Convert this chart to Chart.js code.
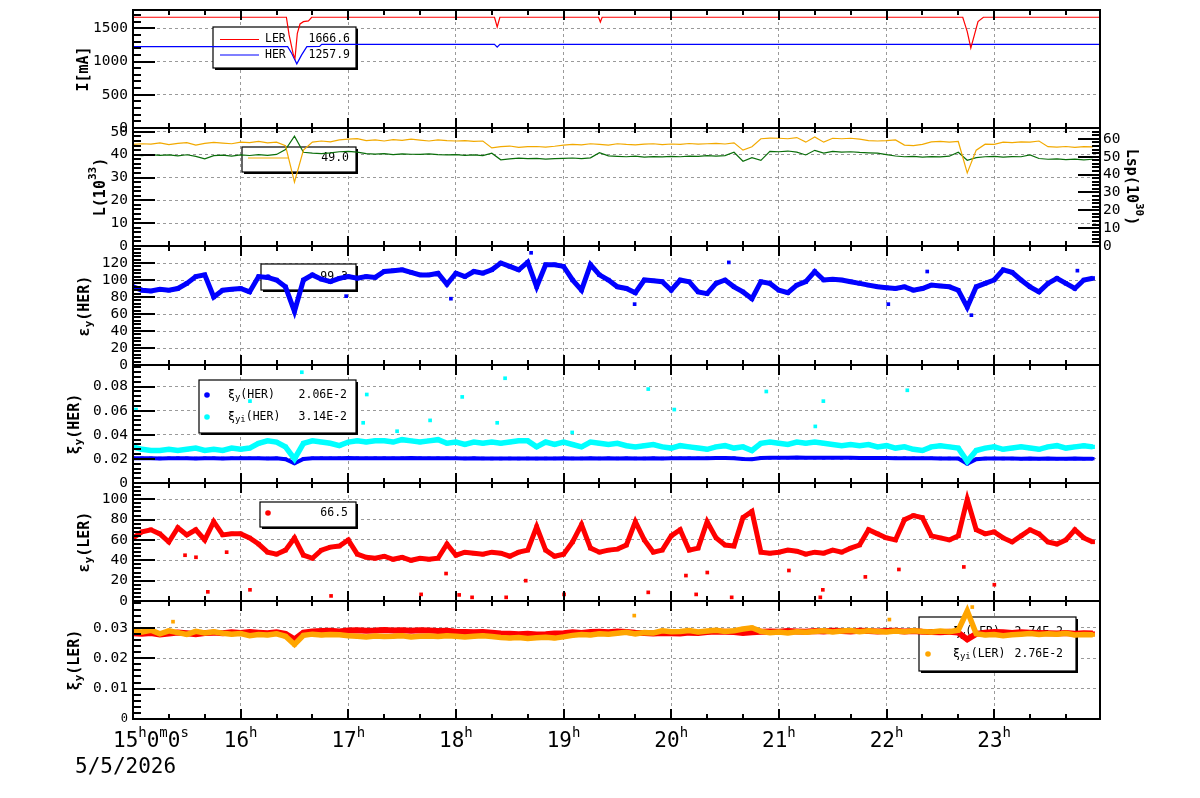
<!DOCTYPE html>
<html lang="en">
<head>
<meta charset="utf-8">
<title>Beam monitor 5/5/2026</title>
<script src="https://cdn.jsdelivr.net/npm/chart.js@4.4.1/dist/chart.umd.min.js"></script>
<style>
html,body{margin:0;padding:0;background:#ffffff;}
body{position:relative;width:1200px;height:798px;overflow:hidden;}
canvas{position:absolute;left:0;}
</style>
</head>
<body>
<canvas id="p1"></canvas>
<canvas id="p2"></canvas>
<canvas id="p3"></canvas>
<canvas id="p4"></canvas>
<canvas id="p5"></canvas>
<canvas id="p6"></canvas>
<script>
// ================= DATA (minutes after 15:00, 5/5/2026) =================
const timeMin = [0,5,10,15,20,25,30,35,40,45,50,55,60,65,70,75,80,85,90,95,100,105,110,115,120,125,130,135,140,145,150,155,160,165,170,175,180,185,190,195,200,205,210,215,220,225,230,235,240,245,250,255,260,265,270,275,280,285,290,295,300,305,310,315,320,325,330,335,340,345,350,355,360,365,370,375,380,385,390,395,400,405,410,415,420,425,430,435,440,445,450,455,460,465,470,475,480,485,490,495,500,505,510,515,520,525,530,535];

const hourTicks  = [60,120,180,240,300,360,420,480];
const hourLabels = ['16','17','18','19','20','21','22','23'];
const dateLabel  = '5/5/2026';

// Beam currents [mA]
const lerCurT = [0,85.5,87,89.4,90.3,91.6,93.1,95,97.8,99.6,201.5,203,204.5,259.5,260.5,261.5,462.5,465,467,469,471,474,539];
const lerCurV = [1666,1666,1400,1100,1050,1425,1565,1600,1610,1666,1666,1520,1666,1666,1595,1666,1666,1450,1205,1400,1600,1666,1666];
const herCurT = [0,86.2,88.5,91.3,94,96.9,104,105.2,201.5,203,204.5,539];
const herCurV = [1224,1224,1120,965,1100,1224,1226,1258,1258,1215,1258,1258];

// Luminosity L (1e33, left) and Lsp (1e30, right)
const lumL = [44.5,44.8,44.6,45.2,44.4,45.0,45.3,44.2,45.0,45.4,
  45.1,44.8,45.5,45.3,45.8,45.2,45.5,44.0,28.0,42.0,
  45.5,46.0,45.6,46.5,46.8,47.0,46.2,46.5,46.0,46.6,
  46.3,46.8,46.4,46.0,46.5,46.2,46.0,46.2,45.8,46.0,
  43.0,43.5,43.8,43.2,43.5,43.6,43.3,43.7,44.2,44.5,
  44.3,44.8,44.5,44.2,44.8,44.5,44.3,44.6,44.8,44.4,
  44.7,44.5,44.9,44.6,44.8,45.0,44.7,45.2,42.0,43.5,
  47.0,47.3,47.2,47.0,47.5,45.5,47.8,45.5,47.2,47.0,
  47.2,46.8,46.2,46.0,46.2,46.5,44.2,44.0,44.5,45.6,
  45.8,45.5,45.8,32.0,42.0,44.6,44.5,45.5,45.3,45.6,
  45.5,46.0,43.5,43.3,43.6,43.2,43.5,43.4];
const lumSp = [51.0,50.6,51.2,50.8,51.0,50.5,51.1,50.2,48.8,50.6,
  50.9,50.4,51.0,50.7,51.2,50.8,51.3,54.0,61.5,52.5,
  52.0,51.8,52.2,52.8,53.0,52.6,51.8,51.5,51.7,51.2,
  51.6,51.4,51.3,51.6,51.2,51.0,51.2,50.8,51.0,50.6,
  52.0,48.3,48.8,49.2,48.9,49.1,48.7,49.0,49.1,49.3,
  49.0,49.4,52.3,50.5,50.2,50.0,50.3,49.8,50.1,49.9,
  50.2,50.0,50.4,50.2,50.6,50.3,50.6,52.5,47.5,49.5,
  48.0,53.0,52.8,53.2,52.6,51.0,53.6,52.0,53.0,52.6,
  52.8,52.4,52.2,52.0,51.2,50.4,50.0,50.2,49.8,50.1,
  49.9,50.3,52.5,48.0,49.5,50.0,50.2,49.8,50.1,50.0,
  51.0,49.0,48.6,48.8,48.4,48.7,48.3,48.6];

// Vertical emittance HER
const epsHer = [92,88,87,89,88,90,96,104,106,80,
  88,89,90,86,104,103,100,92,63,100,
  106,101,98,102,104,102,104,103,110,111,
  112,109,106,106,108,95,108,104,110,108,
  112,120,116,112,121,92,118,118,116,100,
  88,118,106,100,92,90,85,100,99,98,
  88,100,98,86,84,96,100,92,86,78,
  98,96,88,85,94,98,110,100,101,100,
  98,96,94,92,91,90,92,88,90,94,
  93,92,88,68,92,96,100,112,109,100,
  92,86,96,102,96,90,100,102];
const epsHerOutT = [118.8,177.2,221.9,279.6,332.1,421,442.7,467.3,526.4];
const epsHerOutV = [81,78,132,71.6,120.7,71.6,110,58.6,111];

// Beam-beam parameters HER
const xiHer = [0.0206,0.0205,0.0205,0.0204,0.0205,0.0206,0.0205,0.0204,0.0205,0.0205,
  0.0204,0.0205,0.0206,0.0205,0.0205,0.0204,0.0205,0.0198,0.0163,0.0200,
  0.0205,0.0206,0.0205,0.0206,0.0207,0.0206,0.0205,0.0206,0.0206,0.0205,
  0.0206,0.0207,0.0206,0.0205,0.0206,0.0205,0.0205,0.0204,0.0205,0.0204,
  0.0203,0.0203,0.0204,0.0203,0.0204,0.0203,0.0204,0.0204,0.0205,0.0204,
  0.0204,0.0205,0.0204,0.0205,0.0204,0.0205,0.0204,0.0204,0.0205,0.0204,
  0.0205,0.0205,0.0206,0.0205,0.0206,0.0207,0.0207,0.0206,0.0200,0.0198,
  0.0208,0.0209,0.0210,0.0210,0.0211,0.0210,0.0210,0.0209,0.0210,0.0209,
  0.0209,0.0208,0.0208,0.0207,0.0207,0.0206,0.0206,0.0205,0.0205,0.0205,
  0.0204,0.0204,0.0203,0.0160,0.0198,0.0203,0.0204,0.0203,0.0203,0.0202,
  0.0203,0.0202,0.0203,0.0202,0.0202,0.0203,0.0202,0.0202];
const xiiHer = [0.030,0.028,0.027,0.027,0.028,0.027,0.028,0.029,0.027,0.028,
  0.027,0.029,0.028,0.029,0.033,0.035,0.034,0.030,0.020,0.033,
  0.035,0.034,0.033,0.031,0.034,0.035,0.034,0.035,0.035,0.034,
  0.036,0.035,0.034,0.035,0.036,0.033,0.034,0.032,0.034,0.033,
  0.034,0.033,0.034,0.035,0.035,0.030,0.034,0.032,0.034,0.032,
  0.030,0.034,0.033,0.032,0.033,0.031,0.030,0.031,0.032,0.030,
  0.029,0.031,0.030,0.029,0.028,0.030,0.031,0.029,0.030,0.027,
  0.033,0.034,0.033,0.032,0.034,0.033,0.034,0.033,0.032,0.031,
  0.032,0.031,0.032,0.030,0.031,0.029,0.030,0.028,0.027,0.030,
  0.031,0.030,0.029,0.018,0.027,0.029,0.030,0.028,0.029,0.030,
  0.029,0.028,0.030,0.031,0.029,0.030,0.031,0.030];
const xiiHerOutT = [1.7,65.2,94.1,128.3,130.3,147.2,165.6,183.5,203,207.4,244.8,287.2,301.7,353,380.3,384.8,431.6];
const xiiHerOutV = [0.061,0.068,0.092,0.050,0.0735,0.043,0.052,0.0715,0.050,0.087,0.042,0.078,0.061,0.076,0.047,0.068,0.077];

// Vertical emittance LER
const epsLer = [62,68,70,66,58,72,65,70,60,78,
  65,66,66,62,56,48,46,50,62,45,
  42,50,53,54,60,46,43,42,44,41,
  43,40,42,41,42,56,45,48,47,46,
  48,47,44,48,50,73,50,44,46,58,
  75,52,48,50,51,55,78,60,48,50,
  64,70,50,52,78,62,55,54,82,88,
  48,47,48,50,49,46,48,47,50,48,
  52,55,70,66,62,60,80,84,82,64,
  62,60,64,100,70,66,68,62,58,64,
  70,66,58,56,60,70,62,58];
const epsLerOutT = [29,35.1,41.7,52.2,65.2,110.4,160.6,174.5,181.8,189,208,218.9,240.3,287.2,308.2,313.9,320.1,333.7,365.6,383.1,384.5,408.2,426.9,463.1,480.1];
const epsLerOutV = [45,43,9,48,11,5,6.5,27,6,3.6,3.6,20,6.5,8.5,25,6.5,28,3.6,30,3.6,11,23.7,31,33.5,16];

// Beam-beam parameters LER
const xiLer = [0.0282,0.0280,0.0283,0.0278,0.0281,0.0284,0.0282,0.0279,0.0283,0.0284,
  0.0282,0.0285,0.0283,0.0286,0.0284,0.0282,0.0285,0.0280,0.0262,0.0284,
  0.0288,0.0289,0.0290,0.0288,0.0291,0.0292,0.0290,0.0291,0.0293,0.0291,
  0.0292,0.0290,0.0292,0.0291,0.0289,0.0290,0.0287,0.0286,0.0285,0.0286,
  0.0284,0.0281,0.0280,0.0279,0.0280,0.0278,0.0279,0.0281,0.0282,0.0285,
  0.0283,0.0286,0.0287,0.0285,0.0288,0.0286,0.0284,0.0283,0.0281,0.0283,
  0.0282,0.0281,0.0284,0.0283,0.0286,0.0288,0.0287,0.0286,0.0283,0.0285,
  0.0287,0.0288,0.0287,0.0289,0.0288,0.0287,0.0289,0.0288,0.0290,0.0289,
  0.0288,0.0290,0.0289,0.0288,0.0289,0.0290,0.0288,0.0289,0.0287,0.0286,
  0.0285,0.0287,0.0284,0.0262,0.0280,0.0284,0.0286,0.0285,0.0283,0.0285,
  0.0284,0.0283,0.0282,0.0281,0.0283,0.0280,0.0282,0.0281];
const xiiLer = [0.0288,0.0286,0.0292,0.0280,0.0290,0.0284,0.0278,0.0288,0.0283,0.0287,
  0.0282,0.0279,0.0281,0.0274,0.0278,0.0276,0.0280,0.0272,0.0245,0.0275,
  0.0279,0.0276,0.0278,0.0277,0.0274,0.0272,0.0270,0.0273,0.0271,0.0272,
  0.0274,0.0270,0.0272,0.0273,0.0271,0.0274,0.0272,0.0270,0.0272,0.0274,
  0.0271,0.0268,0.0266,0.0268,0.0265,0.0267,0.0269,0.0266,0.0270,0.0275,
  0.0278,0.0276,0.0280,0.0279,0.0282,0.0285,0.0280,0.0284,0.0283,0.0290,
  0.0287,0.0288,0.0291,0.0286,0.0289,0.0292,0.0288,0.0290,0.0296,0.0300,
  0.0288,0.0284,0.0286,0.0283,0.0287,0.0285,0.0288,0.0290,0.0286,0.0289,
  0.0291,0.0287,0.0290,0.0288,0.0286,0.0289,0.0287,0.0290,0.0288,0.0286,
  0.0289,0.0287,0.0292,0.0355,0.0280,0.0276,0.0278,0.0274,0.0277,0.0279,
  0.0281,0.0278,0.0280,0.0279,0.0282,0.0276,0.0278,0.0277];
const xiiLerOutT = [22.3,279.4,421.6,467.8];
const xiiLerOutV = [0.032,0.034,0.0327,0.0368];

// Legend texts
const legCurrent = [['LER','1666.6'],['HER','1257.9']];
const legLum = '49.0';
const legEpsHer = '99.3';
const legXiHer = ['2.06E-2','3.14E-2'];
const legEpsLer = '66.5';
const legXiLer = ['2.74E-2','2.76E-2'];

// ================= STYLE / HELPERS =================
const MONO = "'DejaVu Sans Mono', monospace";
const TF = 'bold 15px ' + MONO, TSF = 'bold 11px ' + MONO;
const LEGF = '11.5px ' + MONO, LEGS = '9px ' + MONO;
const BIG = '21px ' + MONO, SUPF = '14px ' + MONO;
const GRID = '#9a9a9a';
const X_MAX = 539;
const RED = '#ff0000', BLUE = '#0000ff', CYAN = '#00ffff', ORANGE = '#ffa500', LUMOR = '#f2a900', GREEN = '#0a6e0a';

function pts(t, v){ return t.map((x, i) => ({x: x, y: v[i]})); }
function lineDS(t, v, color, w, axis){ return {data: pts(t, v), showLine: true, borderColor: color, borderWidth: w, pointRadius: 0, tension: 0, yAxisID: axis || 'y'}; }
function bandDS(t, v, color, w, r, order){ return {data: pts(t, v), showLine: true, borderColor: color, backgroundColor: color, borderWidth: w, pointStyle: 'rect', pointRadius: r, pointBorderWidth: 0, tension: 0, borderJoinStyle: 'miter', order: order}; }
function outDS(t, v, color, order){ return {data: pts(t, v), showLine: false, backgroundColor: color, borderColor: color, pointStyle: 'rect', pointRadius: 2.6, pointBorderWidth: 0, order: order}; }

function drawRich(ctx, parts, x, y, rot, align){
  ctx.save();
  ctx.translate(x, y); if (rot) ctx.rotate(rot);
  ctx.textBaseline = 'middle'; ctx.textAlign = 'left';
  let w = 0;
  for (const p of parts){ ctx.font = p.f; w += ctx.measureText(p.t).width; }
  let cx = align === 'center' ? -w / 2 : (align === 'right' ? -w : 0);
  for (const p of parts){ ctx.font = p.f; ctx.fillStyle = p.c || '#000'; ctx.fillText(p.t, cx, p.dy || 0); cx += ctx.measureText(p.t).width; }
  ctx.restore();
}

function drawLegend(ctx, L){
  ctx.fillStyle = '#000'; ctx.fillRect(L.x + 2, L.y + 2, L.w, L.h);
  ctx.fillStyle = '#fff'; ctx.fillRect(L.x, L.y, L.w, L.h);
  ctx.strokeStyle = '#000'; ctx.lineWidth = 1.2; ctx.strokeRect(L.x, L.y, L.w, L.h);
  for (const r of L.rows){
    if (r.line){ ctx.strokeStyle = r.color; ctx.lineWidth = 1.2; ctx.beginPath(); ctx.moveTo(r.line[0], r.y); ctx.lineTo(r.line[1], r.y); ctx.stroke(); }
    if (r.dot){ ctx.fillStyle = r.color; ctx.beginPath(); ctx.arc(r.dot, r.y, 2.8, 0, Math.PI * 2); ctx.fill(); }
    if (r.label) drawRich(ctx, r.label, r.lx, r.y, 0, 'left');
    if (r.value) drawRich(ctx, [{t: r.value, f: LEGF}], r.vx, r.y, 0, 'right');
  }
}

function drawTicks(chart, o){
  const ctx = chart.ctx, a = chart.chartArea, xs = chart.scales.x;
  ctx.strokeStyle = '#000'; ctx.lineWidth = 2; ctx.beginPath();
  for (let m = 0; m <= X_MAX; m += 20){
    const px = Math.round(xs.getPixelForValue(m));
    const L = (m % 60 === 0) ? 10 : 5;
    ctx.moveTo(px, a.bottom); ctx.lineTo(px, a.bottom - L);
    ctx.moveTo(px, a.top); ctx.lineTo(px, a.top + L);
  }
  for (const ax of o.axes){
    const s = chart.scales[ax.id];
    const n = Math.floor((s.max - s.min) / ax.minor + 1e-9);
    for (let k = 0; k <= n; k++){
      const v = s.min + k * ax.minor;
      const py = Math.round(s.getPixelForValue(v));
      const q = v / ax.major;
      const L = Math.abs(q - Math.round(q)) < 1e-6 ? 22 : 8;
      if (ax.side === 'left'){ ctx.moveTo(a.left, py); ctx.lineTo(a.left + L, py); }
      else { ctx.moveTo(a.right, py); ctx.lineTo(a.right - L, py); }
    }
  }
  ctx.stroke();
}

function deco(o, offY){
  return {
    id: 'deco',
    beforeDatasetsDraw(chart){
      if (!o.legend) return;
      const ctx = chart.ctx; ctx.save(); ctx.translate(0, -offY); drawLegend(ctx, o.legend); ctx.restore();
    },
    afterDatasetsDraw(chart){
      const ctx = chart.ctx, a = chart.chartArea;
      ctx.save();
      drawTicks(chart, o);
      ctx.strokeStyle = '#000'; ctx.lineWidth = 2;
      ctx.strokeRect(a.left, a.top, a.right - a.left, a.bottom - a.top);
      ctx.translate(0, -offY);
      for (const t of o.titles) drawRich(ctx, t.parts, t.x, t.y, t.rot, 'center');
      if (o.after) o.after(ctx, chart);
      ctx.restore();
    }
  };
}

function yScale(a, pos){
  return {
    type: 'linear', position: pos, min: a.min, max: a.max,
    afterBuildTicks: s => { s.ticks = a.ticks.map(v => ({value: v})); },
    ticks: {autoSkip: false, color: '#000', font: a.font || {family: MONO, size: 14.5}, padding: pos === 'left' ? 5 : 3, callback: a.fmt || (v => String(v))},
    grid: {display: pos === 'left', color: GRID, lineWidth: 1, drawTicks: false},
    border: {display: false, dash: [3, 3]},
    afterFit: s => { s.width = pos === 'left' ? 133 : 100; }
  };
}

function makePanel(o){
  const padT = 20, padB = o.padB || 20;
  const cv = document.getElementById(o.id);
  cv.width = 1200; cv.height = o.bottom - o.top + padT + padB;
  cv.style.top = (o.top - padT) + 'px';
  const offY = o.top - padT;
  const scales = {
    x: {type: 'linear', min: 0, max: X_MAX,
        afterBuildTicks: s => { s.ticks = hourTicks.map(v => ({value: v})); },
        ticks: {display: false},
        grid: {color: GRID, lineWidth: 1, drawTicks: false},
        border: {display: false, dash: [3, 3]},
        afterFit: s => { s.height = 0; }},
    y: yScale(o.y, 'left')
  };
  if (o.y2) scales.y2 = yScale(o.y2, 'right');
  new Chart(cv, {
    type: 'scatter',
    data: {datasets: o.datasets},
    options: {
      responsive: false, animation: false, devicePixelRatio: 1, events: [],
      layout: {padding: {left: 0, right: o.y2 ? 0 : 100, top: padT, bottom: padB}},
      plugins: {legend: {display: false}, tooltip: {enabled: false}},
      scales: scales
    },
    plugins: [deco(o, offY)]
  });
}

const ROT_L = -Math.PI / 2, ROT_R = Math.PI / 2;
const fmt2 = v => v === 0 ? '0' : v.toFixed(2);

// ---------- Panel 1: currents ----------
makePanel({
  id: 'p1', top: 10, bottom: 128,
  y: {min: 0, max: 1775, ticks: [0, 500, 1000, 1500]},
  axes: [{id: 'y', side: 'left', major: 500, minor: 100}],
  datasets: [lineDS(lerCurT, lerCurV, RED, 1.2), lineDS(herCurT, herCurV, BLUE, 1.2)],
  legend: {x: 213, y: 27, w: 143, h: 41, rows: [
    {line: [220, 259], color: RED, y: 39.5, label: [{t: legCurrent[0][0], f: LEGF}], lx: 265, value: legCurrent[0][1], vx: 350},
    {line: [220, 259], color: BLUE, y: 55, label: [{t: legCurrent[1][0], f: LEGF}], lx: 265, value: legCurrent[1][1], vx: 350}]},
  titles: [{parts: [{t: 'I[mA]', f: TF}], x: 84, y: 69, rot: ROT_L}]
});

// ---------- Panel 2: luminosity ----------
makePanel({
  id: 'p2', top: 128, bottom: 246,
  y: {min: 0, max: 51.7, ticks: [0, 10, 20, 30, 40, 50]},
  y2: {min: 0, max: 66.1, ticks: [0, 10, 20, 30, 40, 50, 60]},
  axes: [{id: 'y', side: 'left', major: 10, minor: 2}, {id: 'y2', side: 'right', major: 10, minor: 2}],
  datasets: [lineDS(timeMin, lumL, LUMOR, 1.2, 'y'), lineDS(timeMin, lumSp, GREEN, 1.2, 'y2')],
  legend: {x: 242, y: 147, w: 114, h: 25, rows: [{line: [248, 288], color: LUMOR, y: 158, value: legLum, vx: 349}]},
  titles: [
    {parts: [{t: 'L(10', f: TF}, {t: '33', f: TSF, dy: -8}, {t: ')', f: TF}], x: 101, y: 187, rot: ROT_L},
    {parts: [{t: 'Lsp(10', f: TF}, {t: '30', f: TSF, dy: -8}, {t: ')', f: TF}], x: 1131, y: 187, rot: ROT_R}]
});

// ---------- Panel 3: emittance HER ----------
makePanel({
  id: 'p3', top: 246, bottom: 365,
  y: {min: 0, max: 140, ticks: [0, 20, 40, 60, 80, 100, 120]},
  axes: [{id: 'y', side: 'left', major: 20, minor: 4}],
  datasets: [bandDS(timeMin, epsHer, BLUE, 5, 3, 1), outDS(epsHerOutT, epsHerOutV, BLUE, 0)],
  legend: {x: 261, y: 264, w: 95, h: 26, rows: [{dot: 268, color: BLUE, y: 277, value: legEpsHer, vx: 348}]},
  titles: [{parts: [{t: 'ε', f: TF}, {t: 'y', f: TSF, dy: 4}, {t: '(HER)', f: TF}], x: 85, y: 306, rot: ROT_L}]
});

// ---------- Panel 4: beam-beam HER ----------
makePanel({
  id: 'p4', top: 365, bottom: 483,
  y: {min: 0, max: 0.098, ticks: [0, 0.02, 0.04, 0.06, 0.08], fmt: fmt2},
  axes: [{id: 'y', side: 'left', major: 0.02, minor: 0.004}],
  datasets: [bandDS(timeMin, xiHer, BLUE, 4, 2.4, 1), bandDS(timeMin, xiiHer, CYAN, 5.5, 3, 0), outDS(xiiHerOutT, xiiHerOutV, CYAN, 0)],
  legend: {x: 199, y: 380, w: 157, h: 53, rows: [
    {dot: 207, color: BLUE, y: 395, label: [{t: 'ξ', f: LEGF}, {t: 'y', f: LEGS, dy: 3}, {t: '(HER)', f: LEGF}], lx: 228, value: legXiHer[0], vx: 347},
    {dot: 207, color: CYAN, y: 417, label: [{t: 'ξ', f: LEGF}, {t: 'yi', f: LEGS, dy: 3}, {t: '(HER)', f: LEGF}], lx: 228, value: legXiHer[1], vx: 347}]},
  titles: [{parts: [{t: 'ξ', f: TF}, {t: 'y', f: TSF, dy: 4}, {t: '(HER)', f: TF}], x: 75, y: 424, rot: ROT_L}]
});

// ---------- Panel 5: emittance LER ----------
makePanel({
  id: 'p5', top: 483, bottom: 601,
  y: {min: 0, max: 116, ticks: [0, 20, 40, 60, 80, 100]},
  axes: [{id: 'y', side: 'left', major: 20, minor: 4}],
  datasets: [bandDS(timeMin, epsLer, RED, 5, 3, 1), outDS(epsLerOutT, epsLerOutV, RED, 0)],
  legend: {x: 260, y: 502, w: 96, h: 25, rows: [{dot: 268, color: RED, y: 513, value: legEpsLer, vx: 348}]},
  titles: [{parts: [{t: 'ε', f: TF}, {t: 'y', f: TSF, dy: 4}, {t: '(LER)', f: TF}], x: 85, y: 542, rot: ROT_L}]
});

// ---------- Panel 6: beam-beam LER + time axis ----------
makePanel({
  id: 'p6', top: 601, bottom: 719, padB: 75,
  y: {min: 0, max: 0.0388, ticks: [0, 0.01, 0.02, 0.03], fmt: fmt2,
      font: c => ({family: MONO, size: (c.tick && c.tick.value === 0) ? 12 : 14.5})},
  axes: [{id: 'y', side: 'left', major: 0.01, minor: 0.002}],
  datasets: [bandDS(timeMin, xiLer, RED, 6, 3, 1), bandDS(timeMin, xiiLer, ORANGE, 5.5, 3, 0), outDS(xiiLerOutT, xiiLerOutV, ORANGE, 0)],
  legend: {x: 919, y: 617, w: 157, h: 54, rows: [
    {dot: 928, color: RED, y: 632, label: [{t: 'ξ', f: LEGF}, {t: 'y', f: LEGS, dy: 3}, {t: '(LER)', f: LEGF}], lx: 953, value: legXiLer[0], vx: 1063},
    {dot: 928, color: ORANGE, y: 654, label: [{t: 'ξ', f: LEGF}, {t: 'yi', f: LEGS, dy: 3}, {t: '(LER)', f: LEGF}], lx: 953, value: legXiLer[1], vx: 1063}]},
  titles: [{parts: [{t: 'ξ', f: TF}, {t: 'y', f: TSF, dy: 4}, {t: '(LER)', f: TF}], x: 75, y: 660, rot: ROT_L}],
  after: (ctx, chart) => {
    const xs = chart.scales.x;
    hourTicks.forEach((m, i) => {
      drawRich(ctx, [{t: hourLabels[i], f: BIG}, {t: 'h', f: SUPF, dy: -9}], xs.getPixelForValue(m), 742, 0, 'center');
    });
    drawRich(ctx, [{t: '15', f: BIG}, {t: 'h', f: SUPF, dy: -9}, {t: '0', f: BIG}, {t: 'm', f: SUPF, dy: -9}, {t: '0', f: BIG}, {t: 's', f: SUPF, dy: -9}], 113, 742, 0, 'left');
    drawRich(ctx, [{t: dateLabel, f: BIG}], 75, 768, 0, 'left');
  }
});
</script>
</body>
</html>
